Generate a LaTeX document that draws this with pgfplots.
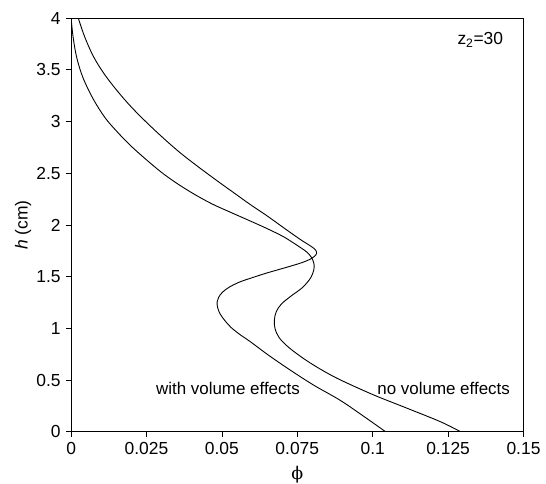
\documentclass[border=0pt]{standalone}
\usepackage{fontspec}
\setmainfont{Liberation Sans}
\newfontfamily\phifont{DejaVu Serif}
\usepackage{pgfplots}
\pgfplotsset{compat=1.18}
\begin{document}
\fontsize{16}{19}\selectfont
\begin{tikzpicture}
\useasboundingbox (-71.1bp,-52.2bp) rectangle (474.9bp,431.8bp);
\begin{axis}[
  at={(0,0)}, anchor=south west,
  scale only axis, width=452.4bp, height=413.6bp,
  xmin=0, xmax=0.15, ymin=0, ymax=4,
  xtick={0,0.025,0.05,0.075,0.1,0.125,0.15},
  xticklabels={0,0.025,0.05,0.075,0.1,0.125,0.15},
  ytick={0,0.5,1,1.5,2,2.5,3,3.5,4},
  yticklabels={0,0.5,1,1.5,2,2.5,3,3.5,4},
  scaled x ticks=false, scaled y ticks=false,
  tick align=outside, xtick pos=bottom, ytick pos=left,
  major tick length=5bp,
  tick style={black, line width=0.8bp},
  axis line style={black, line width=0.8bp},
  ticklabel style={font=\fontsize{17.5}{20}\selectfont},
  /pgf/number format/assume math mode=true,
  xlabel={{\phifont ϕ}}, ylabel={\textit{h} (cm)},
  label style={font=\fontsize{17.5}{20}\selectfont},
  xlabel style={at={(axis description cs:0.5,0)}, anchor=center, yshift=-43bp},
  ylabel style={at={(axis description cs:0,0.5)}, anchor=center, yshift=48bp},
]
% with volume effects
\addplot[black, line width=0.9bp, smooth, tension=0.55] coordinates {
(0.1043,0) (0.0975,0.14) (0.0892,0.305) (0.0805,0.45) (0.0725,0.6)
(0.0655,0.74) (0.0595,0.87) (0.0560,0.94) (0.0530,1.01) (0.0510,1.075)
(0.0494,1.14) (0.0486,1.20) (0.0484,1.255) (0.0489,1.30) (0.0502,1.35)
(0.0525,1.40) (0.0560,1.45) (0.0600,1.49) (0.0649,1.536)
(0.0704,1.582) (0.0759,1.630) (0.0790,1.665) (0.0806,1.695) (0.0814,1.725)
(0.0810,1.76) (0.0795,1.795) (0.0759,1.862) (0.0704,1.975) (0.0649,2.09)
(0.0593,2.2) (0.0538,2.315) (0.0483,2.43) (0.0416,2.575) (0.0361,2.70)
(0.0306,2.84) (0.0251,2.99) (0.0200,3.14) (0.0155,3.29) (0.0110,3.46)
(0.0074,3.63) (0.0045,3.82) (0.0024,4.0)
};
% no volume effects
\addplot[black, line width=0.9bp, smooth, tension=0.55] coordinates {
(0.1292,0) (0.1225,0.097) (0.1113,0.229) (0.1002,0.358) (0.0892,0.503)
(0.0830,0.6) (0.0775,0.70) (0.0722,0.815) (0.0690,0.91) (0.0676,1.0)
(0.0674,1.08) (0.0680,1.16) (0.0697,1.235) (0.0728,1.31) (0.0765,1.39)
(0.0790,1.47) (0.0801,1.53) (0.0806,1.59) (0.0804,1.64) (0.0796,1.69)
(0.0781,1.74) (0.0748,1.806) (0.0704,1.887) (0.0650,1.965) (0.0593,2.04)
(0.0527,2.125) (0.0470,2.2) (0.0416,2.285) (0.0360,2.385) (0.0306,2.495)
(0.0250,2.63) (0.0195,2.774) (0.0150,2.91) (0.0112,3.04) (0.0074,3.215)
(0.0040,3.42) (0.0019,3.615) (0.0007,3.81) (0.0001,3.97) (0,4)
};
\node[anchor=east, inner sep=0pt, font=\fontsize{17}{20}\selectfont] at (axis cs:0.0759,0.424) {with volume effects};
\node[anchor=west, inner sep=0pt, font=\fontsize{17}{20}\selectfont] at (axis cs:0.1015,0.424) {no volume effects};
\node[anchor=east, inner sep=0pt, font=\fontsize{17.5}{20}\selectfont] at (axis cs:0.1433,3.79) {z\textsubscript{2}=30};
\end{axis}
\end{tikzpicture}
\end{document}
